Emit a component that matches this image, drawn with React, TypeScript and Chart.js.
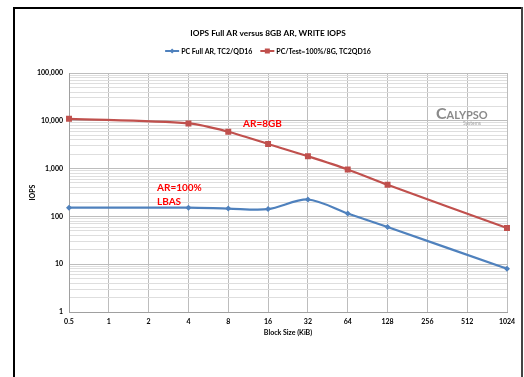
import React, { useEffect, useRef } from "react";
import { Chart, registerables } from "chart.js";

Chart.register(...registerables);

const blockSizes = ["0.5", "1", "2", "4", "8", "16", "32", "64", "128", "256", "512", "1024"];
const fullAR: (number | null)[] = [152, null, null, 152, 146, 142, 226, 115, 60, null, null, 8.0];
const ar8GB: (number | null)[] = [11000, null, null, 8800, 5900, 3270, 1810, 960, 458, null, null, 57];
const yTickValues = [1, 10, 100, 1000, 10000, 100000];
const titleText = "IOPS Full AR versus 8GB AR, WRITE IOPS";
const seriesNames = ["PC Full AR, TC2/QD16", "PC/Test=100%/8G, TC2QD16"];
const BLUE = "#4F81BD";
const RED = "#C0504D";
const FONT = "Lato, 'Open Sans', sans-serif";

const isMajor = (v: number) => Math.abs(Math.log10(v) - Math.round(Math.log10(v))) < 1e-6;

const decor = {
  id: "decor",
  beforeDraw(chart: any) {
    const ctx = chart.ctx;
    ctx.save();
    ctx.fillStyle = "#fff";
    ctx.fillRect(0, 0, chart.width, chart.height);
    ctx.restore();
  },
  afterDraw(chart: any) {
    const ctx = chart.ctx;
    const area = chart.chartArea;
    ctx.save();
    // frame
    ctx.fillStyle = "#000";
    ctx.fillRect(13, 7, 509, 2);
    ctx.fillRect(13, 7, 2, 380);
    ctx.fillStyle = "#444";
    ctx.fillRect(521, 7, 2, 380);

    const cx = 268;
    // title
    ctx.fillStyle = "#000";
    ctx.font = `bold 8.3px ${FONT}`;
    ctx.textAlign = "center";
    ctx.textBaseline = "middle";
    ctx.fillText(titleText, cx, 33);

    // legend
    ctx.font = `bold 7px ${FONT}`;
    const lineW = 14;
    const w1 = ctx.measureText(seriesNames[0]).width;
    const w2 = ctx.measureText(seriesNames[1]).width;
    const total = lineW + 2 + w1 + 8 + lineW + 2 + w2;
    let x = cx - total / 2;
    const ly = 51;
    const items = [
      { name: seriesNames[0], color: BLUE, style: "diamond", w: w1 },
      { name: seriesNames[1], color: RED, style: "square", w: w2 },
    ];
    items.forEach((it) => {
      ctx.strokeStyle = it.color;
      ctx.lineWidth = 2;
      ctx.beginPath();
      ctx.moveTo(x, ly);
      ctx.lineTo(x + lineW, ly);
      ctx.stroke();
      ctx.fillStyle = it.color;
      const mx = x + lineW / 2;
      if (it.style === "diamond") {
        ctx.beginPath();
        ctx.moveTo(mx, ly - 2.5);
        ctx.lineTo(mx + 2.5, ly);
        ctx.lineTo(mx, ly + 2.5);
        ctx.lineTo(mx - 2.5, ly);
        ctx.closePath();
        ctx.fill();
      } else {
        ctx.fillRect(mx - 2.5, ly - 2.5, 5, 5);
      }
      ctx.fillStyle = "#000";
      ctx.textAlign = "left";
      ctx.fillText(it.name, x + lineW + 2, ly + 0.5);
      x += lineW + 2 + it.w + 8;
    });

    // axis titles
    ctx.font = `bold 7px ${FONT}`;
    ctx.textAlign = "center";
    ctx.fillStyle = "#000";
    ctx.fillText("Block Size (KiB)", (area.left + area.right) / 2, 333);
    ctx.save();
    ctx.translate(33, (area.top + area.bottom) / 2);
    ctx.rotate(-Math.PI / 2);
    ctx.fillText("IOPS", 0, 0);
    ctx.restore();

    // annotations
    ctx.fillStyle = "#FF0000";
    ctx.font = `bold 10px ${FONT}`;
    ctx.textAlign = "left";
    ctx.fillText("AR=8GB", 243, 124);
    ctx.fillText("AR=100%", 157, 188);
    ctx.fillText("LBAS", 157, 202);

    // logo
    ctx.fillStyle = "#8a8a8a";
    ctx.font = `bold 16px ${FONT}`;
    ctx.textBaseline = "alphabetic";
    ctx.fillText("C", 436, 119);
    const cW = ctx.measureText("C").width;
    ctx.font = `bold 11px ${FONT}`;
    ctx.fillText("ALYPSO", 436 + cW, 119);
    ctx.font = `5px ${FONT}`;
    ctx.fillStyle = "#a0a0a0";
    ctx.fillText("Systems", 463, 125);
    ctx.restore();
  },
};

export default function App() {
  const ref = useRef<HTMLCanvasElement>(null);
  useEffect(() => {
    if (!ref.current) return;
    const chart = new Chart(ref.current, {
      type: "line",
      data: {
        labels: blockSizes,
        datasets: [
          {
            label: seriesNames[0],
            data: fullAR,
            borderColor: BLUE,
            backgroundColor: BLUE,
            borderWidth: 2.2,
            pointStyle: "rectRot",
            pointRadius: 3,
            pointBorderWidth: 0,
            spanGaps: true,
            tension: 0.3,
          },
          {
            label: seriesNames[1],
            data: ar8GB,
            borderColor: RED,
            backgroundColor: RED,
            borderWidth: 2.2,
            pointStyle: "rect",
            pointRadius: 4.2,
            pointBorderWidth: 0,
            spanGaps: true,
            tension: 0.3,
          },
        ],
      },
      options: {
        responsive: false,
        animation: false,
        layout: { padding: { top: 73, right: 17, bottom: 45, left: 20 } },
        plugins: {
          legend: { display: false },
          title: { display: false },
          tooltip: { enabled: false },
        },
        scales: {
          x: {
            type: "category",
            offset: false,
            grid: { color: "#bdbdbd", lineWidth: 1, drawTicks: false },
            border: { color: "#a0a0a0", width: 1 },
            ticks: {
              color: "#000",
              font: { family: FONT, size: 7, weight: "bold" },
              padding: 6,
              maxRotation: 0,
              autoSkip: false,
            },
            afterFit: (s: any) => {
              s.height = 20;
            },
          },
          y: {
            type: "logarithmic",
            min: 1,
            max: 100000,
            grid: {
              color: (c: any) => (c.tick && isMajor(c.tick.value) ? "#bdbdbd" : "#dedede"),
              lineWidth: 1,
              drawTicks: false,
            },
            border: { color: "#a0a0a0", width: 1 },
            afterBuildTicks: (s: any) => {
              const t: any[] = [];
              for (let d = 0; d < 5; d++) {
                for (let m = 1; m <= 9; m++) t.push({ value: m * Math.pow(10, d) });
              }
              t.push({ value: 100000 });
              s.ticks = t;
            },
            ticks: {
              color: "#000",
              font: { family: FONT, size: 7, weight: "bold" },
              padding: 6,
              autoSkip: false,
              callback: (v: any) => (yTickValues.includes(Number(v)) ? Number(v).toLocaleString("en-US") : ""),
            },
            afterFit: (s: any) => {
              s.width = 49;
            },
          },
        },
      },
      plugins: [decor],
    });
    return () => chart.destroy();
  }, []);
  return (
    <div style={{ position: "fixed", left: 0, top: 0, width: 524, height: 377, background: "#fff" }}>
      <canvas ref={ref} width={524} height={377} style={{ width: 524, height: 377, display: "block" }} />
    </div>
  );
}
